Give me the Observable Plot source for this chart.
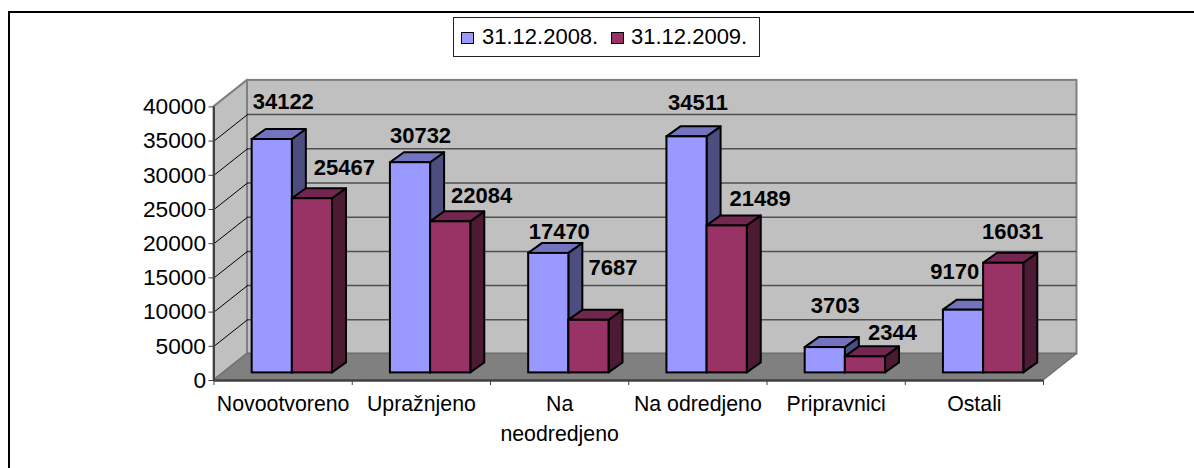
<!DOCTYPE html>
<html>
<head>
<meta charset="utf-8">
<script src="https://cdn.jsdelivr.net/npm/d3@7"></script>
<script src="https://cdn.jsdelivr.net/npm/@observablehq/plot@0.6"></script>
<style>
  html, body { margin: 0; padding: 0; background: #fff; overflow: hidden; }
  #page { position: relative; width: 1194px; height: 468px; font-family: "Liberation Sans", Arial, sans-serif; color: #000; }
  #frame { position: absolute; left: 8px; top: 11px; right: 0; bottom: 0; border-left: 2px solid #000; border-top: 2px solid #000; }
  #chart { position: absolute; left: 0; top: 0; }
  #legend { position: absolute; left: 453px; top: 17px; width: 305px; height: 38px; border: 1px solid #222; background: #fff; font-size: 22px; }
  #legend i { position: absolute; top: 14px; width: 11px; height: 10px; border: 1.5px solid #000; }
  #legend span { position: absolute; top: 6px; line-height: 26px; white-space: nowrap; }
</style>
</head>
<body>
<div id="page">
  <div id="frame"></div>
  <div id="chart"></div>
  <div id="legend"></div>
</div>
<script>
const categories = ["Novootvoreno", "Upražnjeno", "Na\nneodredjeno", "Na odredjeno", "Pripravnici", "Ostali"];
const seriesNames = ["31.12.2008.", "31.12.2009."];
const values2008 = [34122, 30732, 17470, 34511, 3703, 9170];
const values2009 = [25467, 22084, 7687, 21489, 2344, 16031];
const yTicks = [0, 5000, 10000, 15000, 20000, 25000, 30000, 35000, 40000];

// colours: front, top, side
const palette = [
  ["#9999ff", "#7373bf", "#4d4d80"],
  ["#993366", "#732650", "#4d1a33"]
];

// label nudges in pixels, relative to each bar's front top centre
const labelDx = [[11, 10, 10.5, 11, 10, -8.7], [32, 31, 24, 33, 27, 9]];
const labelDy = [[-38, -27, -21, -34, -42, -38], [-31, -26, -52, -27, -24, -31]];

// scale layout
const pxPerUnitY = 34.2 / 5000, pxPerCat = 138.33;
const ux = px => px / pxPerCat;            // px → x units
const uy = px => px / pxPerUnitY;          // px → y units
const wallX = ux(33.5), wallY = uy(26.5);  // 3D depth of the chart box
const barX = ux(14), barY = uy(10);        // 3D depth of a bar
const baseY = uy(7.6);                     // bar base position on the floor
const barLeft = ux(38.2), barW = ux(40.2);
const xMax = categories.length, yMax = 40000;

const gridVals = yTicks.filter(v => v > 0 && v < yMax);

const bars = [values2008, values2009].flatMap((vals, s) => vals.map((v, i) => {
  const x1 = i + barLeft + s * barW, x2 = x1 + barW, top = v + baseY;
  return { id: s + "-" + i, s, i, v, x1, x2, base: baseY, top };
}));

const side = b => [
  { id: b.id, x1: b.x2, y1: b.base, x2: b.x2, y2: b.top },
  { id: b.id, x1: b.x2 + barX, y1: b.base + barY, x2: b.x2 + barX, y2: b.top + barY }
];
const topFace = b => [
  { id: b.id, x1: b.x1, y1: b.top, x2: b.x2, y2: b.top },
  { id: b.id, x1: b.x1 + barX, y1: b.top + barY, x2: b.x2 + barX, y2: b.top + barY }
];
const face = (rows, fill, stroke, strokeWidth) => Plot.area(rows, {
  x1: "x1", y1: "y1", x2: "x2", y2: "y2", z: "id", fill, stroke, strokeWidth, strokeLinejoin: "round"
});

const barMarks = [0, 1].flatMap(s => {
  const rows = bars.filter(b => b.s === s);
  return [
    face(rows.flatMap(side), palette[s][2], "#000", 2),
    face(rows.flatMap(topFace), palette[s][1], "#000", 2),
    Plot.rect(rows, { x1: "x1", x2: "x2", y1: "base", y2: "top", fill: palette[s][0], stroke: "#000", strokeWidth: 2 })
  ];
});

const labelMarks = bars.map(b => Plot.text([b], {
  x: d => (d.x1 + d.x2) / 2, y: "top", text: d => String(d.v),
  dx: labelDx[b.s][b.i], dy: labelDy[b.s][b.i],
  fontSize: 22, fontWeight: "bold", fill: "#000", textAnchor: "middle", lineAnchor: "middle"
}));

const leftWallRows = [
  { id: "w", x1: 0, y1: 0, x2: 0, y2: yMax },
  { id: "w", x1: wallX, y1: wallY, x2: wallX, y2: yMax + wallY }
];
const floorRows = [
  { id: "f", x1: 0, y1: 0, x2: xMax, y2: 0 },
  { id: "f", x1: wallX, y1: wallY, x2: xMax + wallX, y2: wallY }
];
const sideGrid = gridVals.flatMap(v => [
  { id: v, x: 0, y: v },
  { id: v, x: wallX, y: v + wallY }
]);

const chart = Plot.plot({
  width: 1194,
  height: 468,
  marginLeft: 213.5,
  marginRight: 151,
  marginTop: 72.2,
  marginBottom: 88,
  style: { background: "transparent", fontFamily: "'Liberation Sans', Arial, sans-serif", color: "#000" },
  x: { domain: [0, xMax] },
  y: { domain: [0, 45000] },
  marks: [
    face(leftWallRows, "#c0c0c0", "#808080", 2),
    Plot.rect([0], { x1: wallX, x2: xMax + wallX, y1: wallY, y2: yMax + wallY, fill: "#c0c0c0", stroke: "#808080", strokeWidth: 2 }),
    face(floorRows, "#808080", "#707070", 1.5),
    Plot.ruleY(gridVals, { y: d => d + wallY, x1: wallX, x2: xMax + wallX, stroke: "#505050", strokeWidth: 1.5 }),
    Plot.line(sideGrid, { x: "x", y: "y", z: "id", stroke: "#000", strokeWidth: 1 }),
    Plot.ruleX([0], { y1: 0, y2: yMax, stroke: "#404040", strokeWidth: 2 }),
    Plot.ruleY([0], { x1: 0, x2: xMax, stroke: "#404040", strokeWidth: 2.5 }),
    Plot.axisY({ ticks: yTicks, tickSize: 5, tickPadding: 3, tickFormat: d3.format("d"), label: null, fontSize: 22.7, stroke: "#404040", fill: "#000", textStroke: "none" }),
    Plot.axisX({ ticks: d3.range(0, xMax + 1), tickSize: 5, tickFormat: () => "", label: null, stroke: "#404040" }),
    ...barMarks,
    ...labelMarks,
    Plot.text(categories, {
      x: (d, i) => i + 0.5, y: 0, dy: 9, text: d => d, fontSize: 21.3, lineHeight: 1.41, lineAnchor: "top",
      fill: "#000", textAnchor: "middle"
    })
  ]
});
document.getElementById("chart").appendChild(chart);

const legend = document.getElementById("legend");
[[7, 28], [157, 177]].forEach(([swatch, label], s) => {
  const i = document.createElement("i");
  i.style.left = swatch + "px";
  i.style.background = palette[s][0];
  const t = document.createElement("span");
  t.style.left = label + "px";
  t.textContent = seriesNames[s];
  legend.append(i, t);
});
</script>
</body>
</html>
